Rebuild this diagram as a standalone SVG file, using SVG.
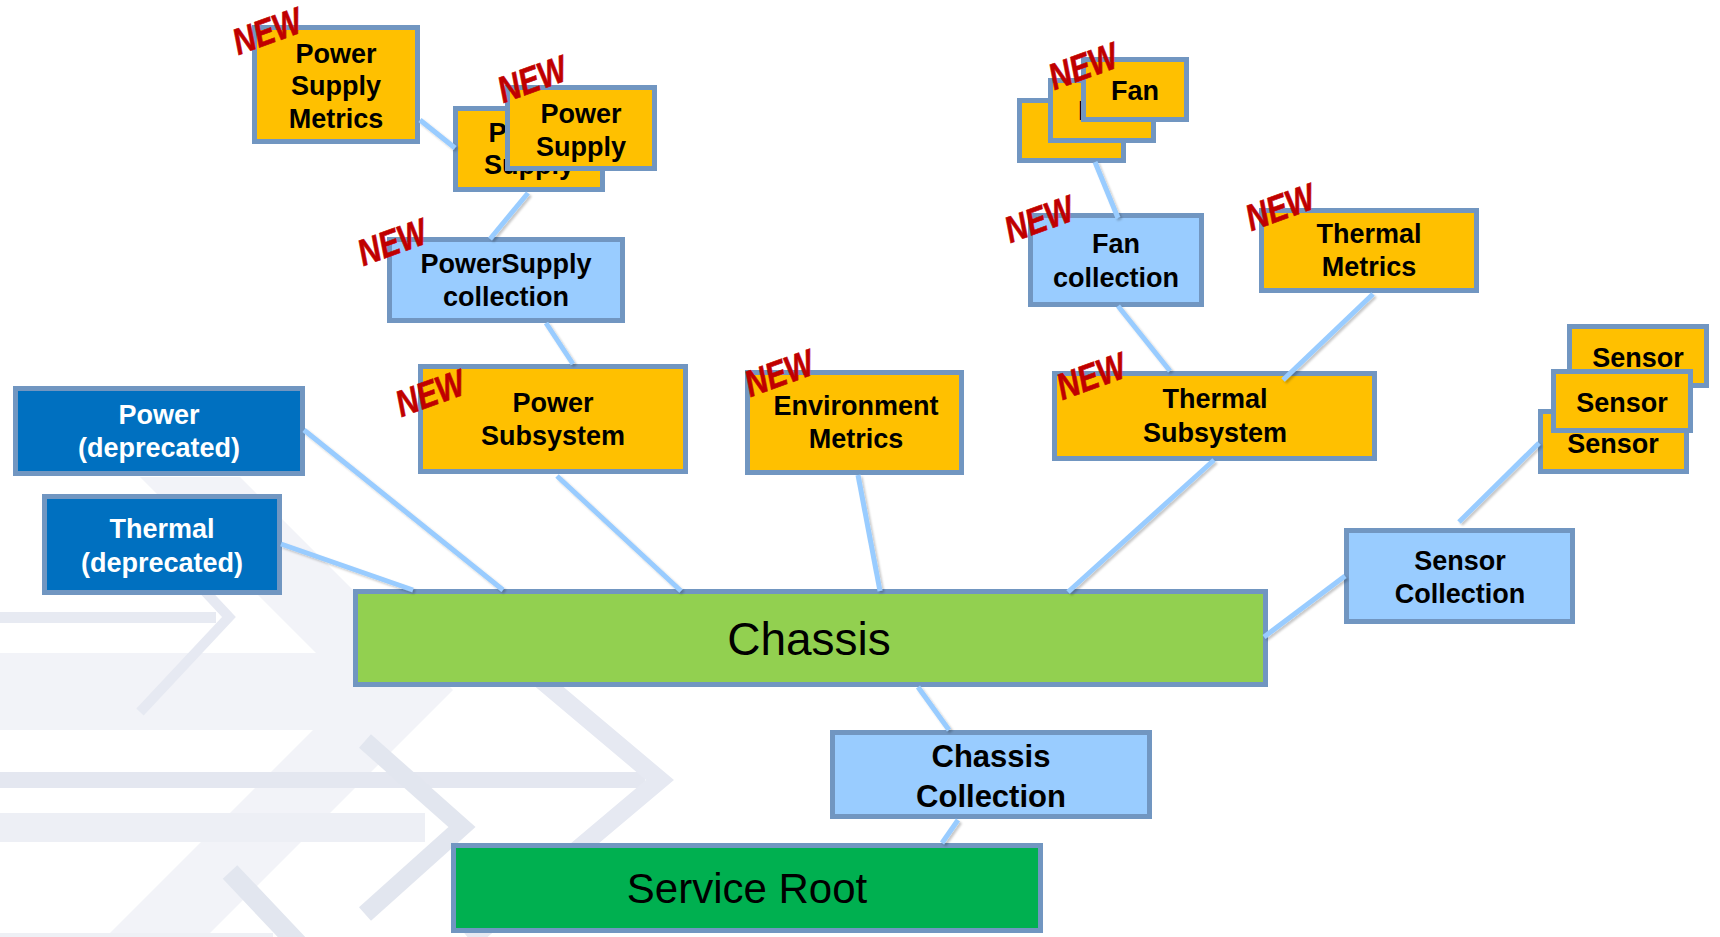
<svg xmlns="http://www.w3.org/2000/svg" width="1720" height="937" viewBox="0 0 1720 937">
<defs>
<style>
.box{stroke:#7196C1;stroke-width:5}
.or{fill:#FFC000}
.lb{fill:#99CCFF}
.db{fill:#0070C0}
.t{font-family:"Liberation Sans",Arial,sans-serif;font-weight:bold;font-size:27px;text-anchor:middle;fill:#000}
.w{fill:#fff}
.big{font-family:"Liberation Sans",Arial,sans-serif;font-weight:normal;text-anchor:middle;fill:#000}
.new{font-family:"Liberation Sans",Arial,sans-serif;font-weight:bold;font-style:italic;font-size:37px;text-anchor:middle;fill:#C00000;stroke:#C00000;stroke-width:0.6}
.c{stroke:#99CCFF;stroke-width:5;fill:none;stroke-linecap:butt}
.bgs{fill:none;stroke-linejoin:miter}
</style>
<filter id="sh" x="-20%" y="-20%" width="140%" height="140%">
<feDropShadow dx="2" dy="2" stdDeviation="1.2" flood-color="#000" flood-opacity="0.22"/>
</filter>
</defs>
<rect width="1720" height="937" fill="#fff"/>
<g id="background">
<polygon points="140,477 240,477 453,690 206,937 106,937 353,690" fill="#F2F3F8"/>
<rect x="0" y="653" width="360" height="77" fill="#F2F3F8"/>
<rect x="0" y="933" width="273" height="4" fill="#EEF0F5"/>
<rect x="0" y="612" width="216" height="11" fill="#E7EAF2"/>
<polyline class="bgs" points="140,522 229,617 140,712" stroke="#E6E9F2" stroke-width="10"/>
<rect x="0" y="772" width="645" height="16" fill="#E4E7F0"/>
<polyline class="bgs" points="470,620 660,780 470,940" stroke="#E6E9F2" stroke-width="18"/>
<rect x="0" y="813" width="425" height="29" fill="#EDEFF5"/>
<polyline class="bgs" points="365,741 462,827 365,914" stroke="#E2E6EF" stroke-width="18"/>
<line x1="230" y1="872" x2="300" y2="946" stroke="#E2E6EF" stroke-width="20"/>
</g>
<g id="nodes">
<g id="chassis"><rect class="box" x="355.5" y="591.5" width="910" height="93" fill="#92D050"/><text class="big" x="809" y="655" font-size="46">Chassis</text></g>
<g id="service-root"><rect class="box" x="453.5" y="845.5" width="587" height="85" fill="#00B050"/><text class="big" x="747" y="903" font-size="42">Service Root</text></g>
<g id="chassis-collection"><rect class="box lb" x="832.5" y="732.5" width="317" height="84"/><text class="t" x="991" y="767" style="font-size:31px">Chassis</text><text class="t" x="991" y="807" style="font-size:31px">Collection</text></g>
<g id="power-deprecated"><rect class="box db" x="15.5" y="388.5" width="287" height="85"/><text class="t w" x="159" y="424">Power</text><text class="t w" x="159" y="457">(deprecated)</text></g>
<g id="thermal-deprecated"><rect class="box db" x="44.5" y="496.5" width="235" height="96"/><text class="t w" x="162" y="538">Thermal</text><text class="t w" x="162" y="572">(deprecated)</text></g>
<g id="power-subsystem"><rect class="box or" x="420.5" y="366.5" width="265" height="105"/><text class="t" x="553" y="412">Power</text><text class="t" x="553" y="445">Subsystem</text></g>
<g id="powersupply-collection"><rect class="box lb" x="389.5" y="239.5" width="233" height="81"/><text class="t" x="506" y="273">PowerSupply</text><text class="t" x="506" y="306">collection</text></g>
<g id="power-supply-metrics"><rect class="box or" x="254.5" y="27.5" width="163" height="114"/><text class="t" x="336" y="63">Power</text><text class="t" x="336" y="95">Supply</text><text class="t" x="336" y="128">Metrics</text></g>
<g id="power-supply-2"><rect class="box or" x="455.5" y="108.5" width="147" height="81"/><text class="t" x="529" y="142">Power</text><text class="t" x="529" y="174">Supply</text></g>
<g id="power-supply-1"><rect class="box or" x="507.5" y="87.5" width="147" height="81"/><text class="t" x="581" y="123">Power</text><text class="t" x="581" y="156">Supply</text></g>
<g id="environment-metrics"><rect class="box or" x="747.5" y="372.5" width="214" height="100"/><text class="t" x="856" y="415">Environment</text><text class="t" x="856" y="448">Metrics</text></g>
<g id="fan-3"><rect class="box or" x="1019.5" y="100.5" width="104" height="60"/></g>
<g id="fan-2"><rect class="box or" x="1050.5" y="80.5" width="103" height="60"/><text class="t" x="1102" y="120">Fan</text></g>
<g id="fan-1"><rect class="box or" x="1083.5" y="59.5" width="103" height="60"/><text class="t" x="1135" y="100">Fan</text></g>
<g id="fan-collection"><rect class="box lb" x="1030.5" y="215.5" width="171" height="89"/><text class="t" x="1116" y="253">Fan</text><text class="t" x="1116" y="287">collection</text></g>
<g id="thermal-metrics"><rect class="box or" x="1261.5" y="210.5" width="215" height="80"/><text class="t" x="1369" y="243">Thermal</text><text class="t" x="1369" y="276">Metrics</text></g>
<g id="thermal-subsystem"><rect class="box or" x="1054.5" y="373.5" width="320" height="85"/><text class="t" x="1215" y="408">Thermal</text><text class="t" x="1215" y="442">Subsystem</text></g>
<g id="sensor-3"><rect class="box or" x="1569.5" y="326.5" width="137" height="59"/><text class="t" x="1638" y="367">Sensor</text></g>
<g id="sensor-1"><rect class="box or" x="1540.5" y="411.5" width="146" height="60"/><text class="t" x="1613" y="453">Sensor</text></g>
<g id="sensor-2"><rect class="box or" x="1553.5" y="371.5" width="137" height="59"/><text class="t" x="1622" y="412">Sensor</text></g>
<g id="sensor-collection"><rect class="box lb" x="1346.5" y="530.5" width="226" height="91"/><text class="t" x="1460" y="570">Sensor</text><text class="t" x="1460" y="603">Collection</text></g>
</g>
<g id="connectors" filter="url(#sh)">
<line class="c" x1="420" y1="120" x2="455" y2="148"/>
<line class="c" x1="528" y1="193" x2="490" y2="239"/>
<line class="c" x1="546" y1="323" x2="573" y2="364"/>
<line class="c" x1="557" y1="476" x2="681" y2="591"/>
<line class="c" x1="304" y1="430" x2="503" y2="590"/>
<line class="c" x1="281" y1="544" x2="413" y2="590"/>
<line class="c" x1="858" y1="475" x2="880" y2="591"/>
<line class="c" x1="1214" y1="460" x2="1068" y2="592"/>
<line class="c" x1="1118" y1="306" x2="1170" y2="371"/>
<line class="c" x1="1095" y1="162" x2="1118" y2="218"/>
<line class="c" x1="1373" y1="294" x2="1283" y2="380"/>
<line class="c" x1="1539" y1="443" x2="1459" y2="522"/>
<line class="c" x1="1264" y1="637" x2="1345" y2="576"/>
<line class="c" x1="918" y1="687" x2="949" y2="730"/>
<line class="c" x1="958" y1="820" x2="942" y2="843"/>
</g>
<g id="new-labels">
<text class="new" transform="translate(267,31) rotate(-20) scale(0.82,1)" y="13">NEW</text>
<text class="new" transform="translate(532,79) rotate(-20) scale(0.82,1)" y="13">NEW</text>
<text class="new" transform="translate(392,242) rotate(-20) scale(0.82,1)" y="13">NEW</text>
<text class="new" transform="translate(430,393) rotate(-20) scale(0.82,1)" y="13">NEW</text>
<text class="new" transform="translate(779,373) rotate(-20) scale(0.82,1)" y="13">NEW</text>
<text class="new" transform="translate(1083,66) rotate(-20) scale(0.82,1)" y="13">NEW</text>
<text class="new" transform="translate(1039,219) rotate(-20) scale(0.82,1)" y="13">NEW</text>
<text class="new" transform="translate(1280,207) rotate(-20) scale(0.82,1)" y="13">NEW</text>
<text class="new" transform="translate(1091,376) rotate(-20) scale(0.82,1)" y="13">NEW</text>
</g>
</svg>
